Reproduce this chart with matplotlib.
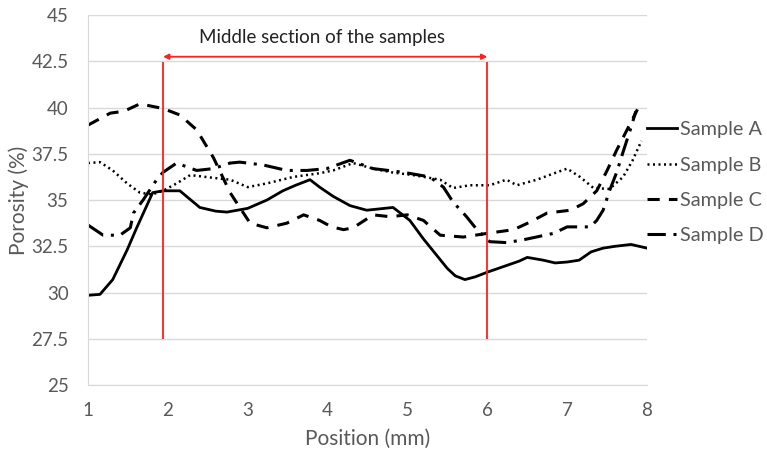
import matplotlib
matplotlib.use('Agg')
from matplotlib import pyplot as plt

plt.rcParams['font.family'] = ['Lato', 'DejaVu Sans']

# Porosity profiles along the sample (position in mm, porosity in %)
a_x = [1.0, 1.15, 1.31, 1.49, 1.61, 1.81, 1.94, 2.15, 2.4, 2.6, 2.74, 3.0, 3.24, 3.44, 3.6,
       3.78, 3.9, 4.07, 4.28, 4.49, 4.82, 5.03, 5.2, 5.35, 5.5, 5.6, 5.72, 5.85, 6.0, 6.2,
       6.4, 6.5, 6.7, 6.85, 7.0, 7.15, 7.3, 7.45, 7.6, 7.8, 8.0]
a_y = [29.85, 29.9, 30.7, 32.3, 33.5, 35.4, 35.5, 35.5, 34.6, 34.4, 34.35, 34.55, 35.0, 35.5, 35.8,
       36.1, 35.7, 35.2, 34.7, 34.45, 34.6, 33.9, 32.9, 32.1, 31.3, 30.9, 30.7, 30.85, 31.1, 31.4,
       31.7, 31.9, 31.75, 31.6, 31.65, 31.75, 32.2, 32.4, 32.5, 32.6, 32.4]

b_x = [1.0, 1.15, 1.31, 1.49, 1.65, 1.8, 1.94, 2.11, 2.28, 2.57, 2.78, 3.0, 3.24, 3.57, 3.9,
       4.07, 4.32, 4.57, 4.8, 5.07, 5.41, 5.57, 5.78, 6.03, 6.24, 6.37, 6.62, 6.87, 7.0, 7.16,
       7.33, 7.53, 7.7, 7.82, 7.93]
b_y = [37.0, 37.05, 36.6, 35.9, 35.4, 35.3, 35.5, 35.9, 36.35, 36.2, 36.1, 35.7, 35.9, 36.25, 36.45,
       36.6, 37.0, 36.7, 36.5, 36.35, 36.1, 35.65, 35.8, 35.8, 36.1, 35.8, 36.1, 36.5, 36.7, 36.25,
       35.65, 35.6, 36.25, 37.15, 38.2]

c_x = [1.0, 1.28, 1.45, 1.65, 1.94, 2.15, 2.36, 2.57, 2.78, 2.87, 3.03, 3.24, 3.49, 3.7, 3.9,
       4.05, 4.2, 4.32, 4.57, 4.78, 5.0, 5.2, 5.41, 5.7, 6.0, 6.33, 6.53, 6.75, 7.04, 7.2,
       7.37, 7.5, 7.62, 7.75, 7.88]
c_y = [39.05, 39.7, 39.8, 40.2, 39.95, 39.6, 38.8, 37.3, 35.4, 34.8, 33.75, 33.5, 33.75, 34.2, 33.9,
       33.55, 33.4, 33.5, 34.2, 34.1, 34.2, 33.9, 33.1, 33.0, 33.2, 33.4, 33.8, 34.3, 34.45, 34.8,
       35.5, 36.6, 37.7, 38.8, 39.9]

d_x = [1.0, 1.19, 1.4, 1.53, 1.57, 1.69, 1.86, 1.94, 2.11, 2.36, 2.57, 2.78, 2.9, 3.19, 3.49,
       3.74, 3.99, 4.28, 4.57, 4.95, 5.28, 5.45, 5.57, 5.74, 5.87, 6.03, 6.24, 6.45, 6.83, 7.0,
       7.29, 7.37, 7.45, 7.53, 7.62, 7.7, 7.79, 7.86]
d_y = [33.65, 33.1, 33.1, 33.5, 34.3, 35.0, 36.1, 36.5, 37.0, 36.6, 36.7, 37.0, 37.05, 36.9, 36.6,
       36.6, 36.7, 37.15, 36.7, 36.5, 36.25, 35.7, 34.9, 34.1, 33.4, 32.75, 32.7, 32.85, 33.2, 33.55,
       33.55, 33.9, 34.45, 35.5, 36.5, 37.6, 38.8, 39.8]

section_start = 1.94
section_end = 6.0
x_ticks = [1, 2, 3, 4, 5, 6, 7, 8]
y_ticks = [25, 27.5, 30, 32.5, 35, 37.5, 40, 42.5, 45]
y_tick_labels = ['25', '27.5', '30', '32.5', '35', '37.5', '40', '42.5', '45']

grey = '#595959'

fig = plt.figure(figsize=(7.67, 4.57), dpi=100)
ax = fig.add_axes([0.1147, 0.1575, 0.7289, 0.8095])

ax.plot(a_x, a_y, color='black', lw=2.0, label='Sample A')
ax.plot(b_x, b_y, color='black', lw=1.8, linestyle=(0, (0.8, 1.4)), label='Sample B')
ax.plot(c_x, c_y, color='black', lw=2.2, linestyle=(0, (4, 3)), label='Sample C')
ax.plot(d_x, d_y, color='black', lw=2.2, linestyle=(0, (6, 2.5, 1, 2.5)), label='Sample D')

# middle section markers
ax.vlines([section_start, section_end], 27.5, 42.45, color='#ff2020', lw=1.3)
ax.annotate('', xy=(section_start, 42.75), xytext=(section_end, 42.75),
            arrowprops=dict(arrowstyle='<|-|>', color='#ff2020', lw=1.3,
                            mutation_scale=8, shrinkA=0, shrinkB=0))
ax.text(3.93, 43.8, 'Middle section of the samples', ha='center', va='center',
        fontsize=13.5, color='#222222')

ax.set_xlim(1, 8)
ax.set_ylim(25, 45)
ax.set_xticks(x_ticks)
ax.set_yticks(y_ticks)
ax.set_yticklabels(y_tick_labels)
ax.grid(axis='y', color='#d9d9d9', lw=1.0)
ax.set_axisbelow(True)
for side in ['top', 'right']:
    ax.spines[side].set_visible(False)
for side in ['left', 'bottom']:
    ax.spines[side].set_color('#d9d9d9')
ax.tick_params(length=0, labelsize=13.5, colors=grey, pad=12)
ax.tick_params(axis='y', pad=14)

ax.set_xlabel('Position (mm)', fontsize=15, color=grey, labelpad=7)
ax.set_ylabel('Porosity (%)', fontsize=15, color=grey, labelpad=2)

leg = ax.legend(loc='upper left', bbox_to_anchor=(1.0, 0.713), frameon=False,
                fontsize=14.3, handlelength=1.5, handletextpad=0.15,
                labelspacing=0.92, borderaxespad=0, borderpad=0)
for t in leg.get_texts():
    t.set_color(grey)

fig.savefig('out.png', dpi=100)
